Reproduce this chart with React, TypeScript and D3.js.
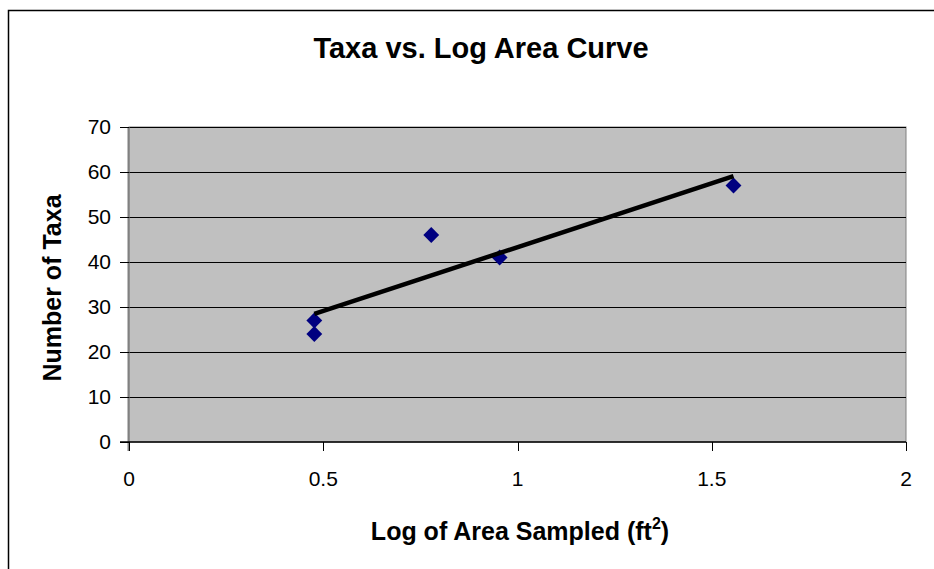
import * as d3 from 'd3'

const W = 934
const H = 569

// log10 of area sampled (ft^2) and number of taxa found
const logArea = [0.477, 0.477, 0.778, 0.954, 1.556]
const taxa = [27, 24, 46, 41, 57]

const xTicks = [0, 0.5, 1, 1.5, 2]
const yTicks = [0, 10, 20, 30, 40, 50, 60, 70]

const margin = { left: 129, right: 28, top: 127, bottom: 127 }
const font = 'Arial, "Liberation Sans", sans-serif'

export default function App() {
  const x = d3.scaleLinear().domain([0, 2]).range([margin.left, W - margin.right])
  const y = d3.scaleLinear().domain([0, 70]).range([H - margin.bottom, margin.top])

  const pts = logArea.map((v, i) => ({ x: v, y: taxa[i] }))

  // least squares trendline
  const mx = d3.mean(logArea)!
  const my = d3.mean(taxa)!
  const sxy = d3.sum(pts, p => (p.x - mx) * (p.y - my))
  const sxx = d3.sum(pts, p => (p.x - mx) ** 2)
  const slope = sxy / sxx
  const icpt = my - slope * mx
  const [x0, x1] = d3.extent(logArea) as [number, number]
  const trend = d3.line<number>().x(v => x(v)).y(v => y(icpt + slope * v))([x0, x1])!

  const diamond = d3.symbol().type(d3.symbolDiamond2).size(160)()!

  const px0 = x(0), px1 = x(2), py0 = y(0), py1 = y(70)

  return (
    <div style={{ position: 'absolute', left: 0, top: 0 }}>
      <svg width={W} height={H} style={{ display: 'block', fontFamily: font }}>
        <rect x={0} y={0} width={W} height={H} fill="#fff" />
        {/* outer chart border */}
        <path d={`M8.5,${H + 5}V10.5H${W + 5}`} fill="none" stroke="#000" strokeWidth={1.5} />

        <text x={481} y={58} textAnchor="middle" fontSize={29} fontWeight="bold">
          Taxa vs. Log Area Curve
        </text>

        <rect x={px0} y={py1} width={px1 - px0} height={py0 - py1} fill="#c0c0c0" stroke="#808080" strokeWidth={1} />

        {yTicks.filter(t => t > 0).map(t => (
          <line key={t} x1={px0} x2={px1} y1={Math.round(y(t)) + 0.5} y2={Math.round(y(t)) + 0.5} stroke="#000" strokeWidth={1} />
        ))}

        {/* axes */}
        <line x1={px0 - 0.5} x2={px0 - 0.5} y1={py1} y2={py0 + 9} stroke="#808080" strokeWidth={2} />
        <line x1={px0 - 9} x2={px1} y1={py0} y2={py0} stroke="#000" strokeWidth={1.5} />
        {yTicks.map(t => (
          <g key={t}>
            <line x1={px0 - 9} x2={px0} y1={Math.round(y(t)) + 0.5} y2={Math.round(y(t)) + 0.5} stroke="#000" />
            <text x={px0 - 18} y={y(t)} dy="0.35em" textAnchor="end" fontSize={21}>{t}</text>
          </g>
        ))}
        {xTicks.map(t => (
          <g key={t}>
            <line x1={Math.round(x(t)) + 0.5} x2={Math.round(x(t)) + 0.5} y1={py0} y2={py0 + 9} stroke="#000" />
            <text x={x(t)} y={py0 + 44} textAnchor="middle" fontSize={21}>{t}</text>
          </g>
        ))}

        {pts.map((p, i) => (
          <path key={i} d={diamond} transform={`translate(${x(p.x)},${y(p.y)})`} fill="#000080" />
        ))}

        <path d={trend} fill="none" stroke="#000" strokeWidth={4.5} />

        <text x={520} y={540} textAnchor="middle" fontSize={25} fontWeight="bold">
          Log of Area Sampled (ft<tspan dy={-11} fontSize={16}>2</tspan><tspan dy={11}>)</tspan>
        </text>
        <text transform="translate(61,288) rotate(-90)" textAnchor="middle" fontSize={25} fontWeight="bold">
          Number of Taxa
        </text>
      </svg>
    </div>
  )
}
